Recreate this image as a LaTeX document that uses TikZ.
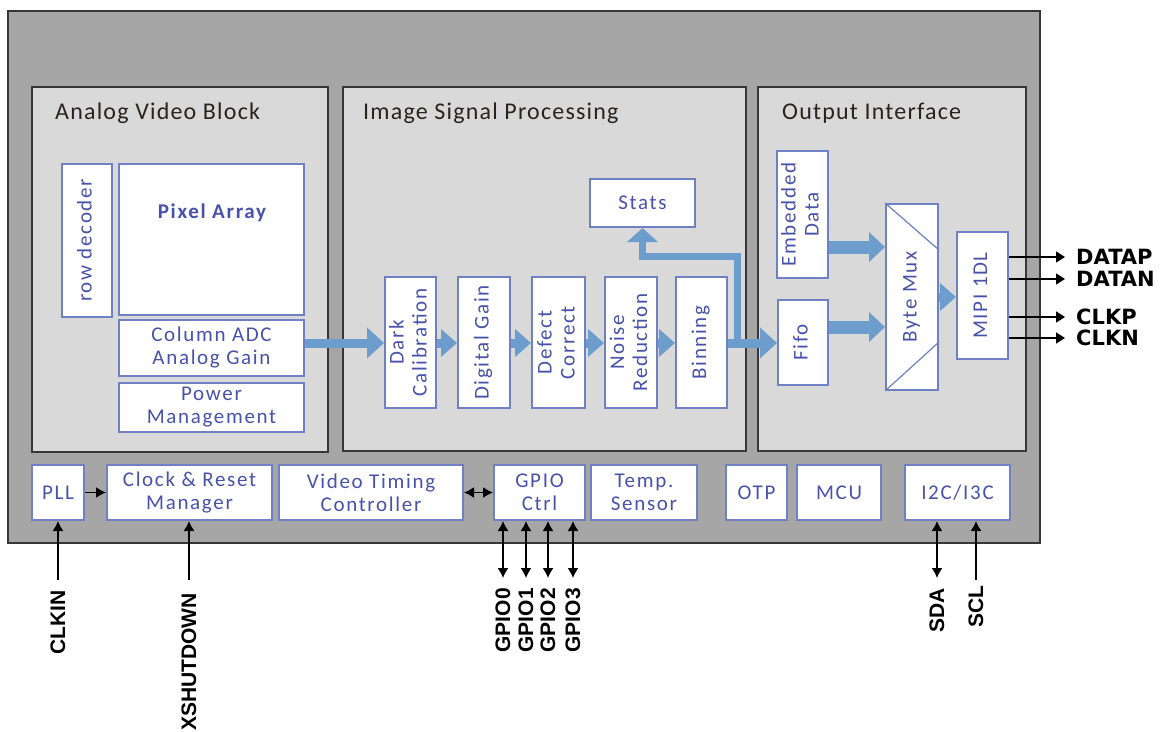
\documentclass[tikz,border=0pt]{standalone}
\usepackage{fontspec}
\setmainfont{Carlito}
\newfontfamily\lblf{Liberation Sans}
\newfontfamily\sigf{DejaVu Sans}
\newfontfamily\blkf[LetterSpace=8]{Carlito}
\newfontfamily\ttlf[LetterSpace=5]{Carlito}
\usetikzlibrary{arrows.meta}
\definecolor{outerfill}{RGB}{166,166,166}
\definecolor{subfill}{RGB}{217,217,217}
\definecolor{edgedark}{RGB}{55,55,55}
\definecolor{boxedge}{RGB}{112,128,196}
\definecolor{boxtext}{RGB}{72,82,170}
\definecolor{flow}{RGB}{108,157,204}
\definecolor{titletext}{RGB}{40,36,32}
\newcommand{\vtxt}[1]{\rotatebox{90}{\begin{tabular}{@{}c@{}}#1\end{tabular}}}
% \mkbox{name}{x1}{y1}{x2}{y2}{text}
\newcommand{\mkbox}[6]{\node[blk, minimum width={(#4-#2)*1pt}, minimum height={(#5-#3)*1pt}] (#1) at ({(#2+#4)/2},{(#3+#5)/2}) {#6};}
\tikzset{blt/.tip={Latex[length=10pt,width=11pt]}}
\begin{document}
\begin{tikzpicture}[x=1pt,y=-1pt,
  outerbox/.style={draw=edgedark, line width=2pt, fill=outerfill},
  section/.style={draw=edgedark, line width=2.5pt, fill=subfill},
  ttl/.style={anchor=base west, inner sep=0pt, text=titletext, font=\ttlf\fontsize{24}{25}\selectfont},
  blk/.style={draw=boxedge, line width=2pt, fill=white, text=boxtext, inner sep=0pt, align=center,
    font=\blkf\fontsize{21}{23}\selectfont},
  flowarr/.style={draw=flow, line width=9pt, -{Triangle[width=30pt,length=17pt]}},
  smallflow/.style={draw=flow, line width=9pt, -{Triangle[width=27pt,length=16pt]}},
  wideflow/.style={draw=flow, line width=13pt, -{Triangle[width=29pt,length=16pt]}},
  sig/.style={inner sep=0pt, text=black, font=\sigf\bfseries\fontsize{21}{21}\selectfont},
  vsig/.style={inner sep=0pt, text=black, rotate=90, anchor=east, font=\lblf\bfseries\fontsize{21}{21}\selectfont},
  sigline/.style={draw=black, line width=1.6pt, -{Triangle[width=11pt,length=9pt]}},
  bl/.style={draw=black, line width=1.5pt}
]
\useasboundingbox (0,0) rectangle (1162,731);
% outer chip
\path[outerbox] (8,11) rectangle (1040,543);
% sections
\path[section] (32,87) rectangle (328,452);
\path[section] (343,87) rectangle (746,451);
\path[section] (758,87) rectangle (1026,451);
\node[ttl] (t1) at (55,119) {Analog Video Block};
\node[ttl] (t2) at (363,119) {Image Signal Processing};
\node[ttl] (t3) at (782,119) {Output Interface};
% analog blocks
\mkbox{rowdec}{62}{164}{112}{317}{\vtxt{row decoder}}
\mkbox{pix}{119}{164}{304}{315}{}
\node[inner sep=0pt, text=boxtext, font=\blkf\bfseries\fontsize{21}{23}\selectfont] (pixtxt) at (212,213) {Pixel Array};
\mkbox{adc}{119}{320}{304}{376}{Column ADC\\Analog Gain}
\mkbox{pwr}{119}{383}{304}{432}{Power\\Management}
% ISP blocks
\mkbox{dark}{385}{277}{436}{408}{\vtxt{Dark\\Calibration}}
\mkbox{dgain}{458}{277}{510}{408}{\vtxt{Digital Gain}}
\mkbox{defect}{532}{277}{585}{408}{\vtxt{Defect\\Correct}}
\mkbox{noise}{605}{277}{657}{408}{\vtxt{Noise\\Reduction}}
\mkbox{binning}{676}{277}{727}{408}{\vtxt{Binning}}
\mkbox{stats}{590}{179}{695}{227}{Stats}
% output interface blocks
\mkbox{emb}{777}{151}{828}{278}{\vtxt{Embedded\\Data}}
\mkbox{fifo}{778}{300}{828}{385}{\vtxt{Fifo}}
\mkbox{mux}{886}{204}{938}{390}{\vtxt{Byte Mux}}
\draw[draw=boxedge, line width=1.2pt] (mux.north west) -- (mux.east |- 0,250);
\draw[draw=boxedge, line width=1.2pt] (mux.east |- 0,342) -- (mux.south west);
\mkbox{mipi}{957}{232}{1008}{359}{\vtxt{MIPI 1DL}}
% bottom row
\mkbox{pll}{32}{465}{84}{520}{PLL}
\mkbox{clk}{107}{465}{272}{520}{Clock \& Reset\\Manager}
\mkbox{vtc}{279}{465}{463}{520}{Video Timing\\Controller}
\mkbox{gpio}{494}{465}{585}{520}{GPIO\\Ctrl}
\mkbox{temp}{591}{465}{697}{520}{Temp.\\Sensor}
\mkbox{otp}{726}{465}{787}{520}{OTP}
\mkbox{mcu}{797}{465}{881}{520}{MCU}
\mkbox{i2c}{905}{465}{1010}{520}{I2C/I3C}
% data flow
\draw[flowarr] (adc.east |- 0,343) -- (dark.west |- 0,343);
\draw[smallflow] (dark.east |- 0,343) -- (dgain.west |- 0,343);
\draw[smallflow] (dgain.east |- 0,343) -- (defect.west |- 0,343);
\draw[smallflow] (defect.east |- 0,343) -- (noise.west |- 0,343);
\draw[smallflow] (noise.east |- 0,343) -- (binning.west |- 0,343);
\draw[flowarr] (binning.east |- 0,343) -- (fifo.west |- 0,343);
\coordinate (br) at (737,347);
\draw[draw=flow, line width=7pt, -{Triangle[width=30pt,length=14pt]}]
  (br) |- (stats.south |- 0,256) -- (stats.south);
\draw[wideflow] (emb.east |- 0,247) -- (mux.west |- 0,247);
\draw[wideflow] (fifo.east |- 0,327) -- (mux.west |- 0,327);
\draw[smallflow] (mux.east |- 0,297) -- (mipi.west |- 0,297);
% output signals
\foreach \n/\t/\yy in {dp/DATAP/257, dn/DATAN/279, cp/CLKP/317, cn/CLKN/338}{
  \node[sig, anchor=west] (\n) at (1076,\yy) {\t};
  \draw[sigline] (mipi.east |- \n.west) -- ([xshift=-11pt]\n.west);
}
% bottom connectors
\draw[bl, -{blt}] (pll.east) -- (clk.west);
\draw[bl, {blt}-{blt}] (vtc.east) -- (gpio.west);
\node[vsig] (clkin) at (58,590) {CLKIN};
\draw[bl, -{blt}] ([yshift=10pt]clkin.east) -- (clkin.east |- pll.south);
\node[vsig] (xsd) at (189,593) {XSHUTDOWN};
\draw[bl, -{blt}] ([yshift=13pt]xsd.east) -- (xsd.east |- clk.south);
\foreach \i/\xx in {0/503,1/526,2/548,3/573}{
  \node[vsig] (g\i) at (\xx,588) {GPIO\i};
  \draw[bl, {blt}-{blt}] (g\i.east |- gpio.south) -- ([yshift=10pt]g\i.east);
}
\node[vsig] (sda) at (937,588) {SDA};
\draw[bl, {blt}-{blt}] (sda.east |- i2c.south) -- ([yshift=10pt]sda.east);
\node[vsig] (scl) at (976,585) {SCL};
\draw[bl, -{blt}] ([yshift=5pt]scl.east) -- (scl.east |- i2c.south);
\end{tikzpicture}
\end{document}
